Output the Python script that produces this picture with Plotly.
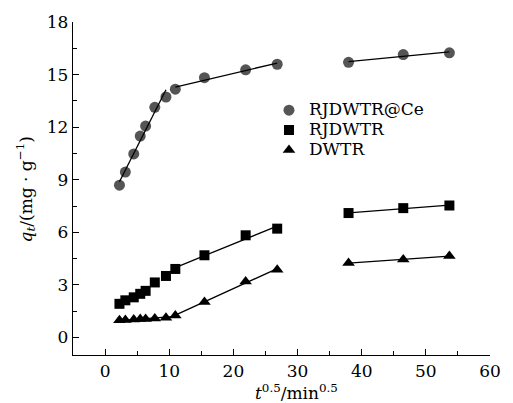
import numpy as np
import plotly.graph_objects as go

# sqrt(t) values (t in min)
t_sqrt = [2.24, 3.16, 4.47, 5.48, 6.32, 7.75, 9.49, 10.95, 15.49, 21.91, 26.83, 37.95, 46.48, 53.67]
q_ce = [8.69, 9.44, 10.47, 11.49, 12.06, 13.13, 13.72, 14.17, 14.82, 15.27, 15.59, 15.70, 16.14, 16.24]
q_rj = [1.92, 2.12, 2.29, 2.49, 2.66, 3.14, 3.51, 3.91, 4.69, 5.83, 6.21, 7.10, 7.38, 7.53]
q_dw = [0.98, 1.00, 1.03, 1.05, 1.06, 1.08, 1.13, 1.25, 2.03, 3.20, 3.87, 4.25, 4.45, 4.65]

series_names = ["RJDWTR@Ce", "RJDWTR", "DWTR"]
# index ranges of points used for each piecewise linear fit (start, end exclusive)
fit_segments = {
    "RJDWTR@Ce": [(0, 7), (7, 11), (11, 14)],
    "RJDWTR": [(7, 11), (11, 14)],
    "DWTR": [(0, 8), (7, 11), (11, 14)],
}

x_ticks = [0, 10, 20, 30, 40, 50, 60]
y_ticks = [0, 3, 6, 9, 12, 15, 18]

FONT = "DejaVu Serif"
FS = 17

styles = {
    "RJDWTR@Ce": dict(symbol="circle", color="#555555", size=11),
    "RJDWTR": dict(symbol="square", color="#000000", size=10),
    "DWTR": dict(symbol="triangle-up", color="#000000", size=11),
}
data = {"RJDWTR@Ce": q_ce, "RJDWTR": q_rj, "DWTR": q_dw}

fig = go.Figure()
x_arr = np.array(t_sqrt)
for name in series_names:
    st = styles[name]
    fig.add_trace(go.Scatter(
        x=t_sqrt, y=data[name], mode="markers",
        name='<span style="font-size:%dpx">%s</span>' % (FS, name),
        marker=dict(symbol=st["symbol"], color=st["color"], size=st["size"], line=dict(width=0)),
    ))
for name in series_names:
    y_arr = np.array(data[name])
    for (a, b) in fit_segments[name]:
        xs = x_arr[a:b]
        k, c = np.polyfit(xs, y_arr[a:b], 1)
        xl = [xs[0], xs[-1]]
        fig.add_trace(go.Scatter(
            x=xl, y=[k * v + c for v in xl], mode="lines",
            line=dict(color="black", width=1.3), showlegend=False, hoverinfo="skip",
        ))

axis_common = dict(
    showline=True, linecolor="black", linewidth=1.4, mirror=False,
    showgrid=False, zeroline=False,
    ticks="inside", ticklen=6, tickwidth=1.2, tickcolor="black",
    tickfont=dict(family=FONT, size=FS, color="black"),
)
fig.update_xaxes(
    range=[-5, 60], tickmode="array", tickvals=x_ticks, ticktext=[str(v) for v in x_ticks],
    minor=dict(ticks="inside", ticklen=4, tickwidth=1.2, tickcolor="black", dtick=5, tick0=0),
    **axis_common,
)
fig.update_yaxes(
    range=[-1, 18], tickmode="array", tickvals=y_ticks, ticktext=[str(v) for v in y_ticks],
    minor=dict(ticks="inside", ticklen=4, tickwidth=1.2, tickcolor="black", dtick=1.5, tick0=0),
    **axis_common,
)

fig.update_layout(
    width=513, height=403,
    margin=dict(l=73, r=16, t=20.5, b=47.5),
    paper_bgcolor="white", plot_bgcolor="white",
    font=dict(family=FONT, size=FS, color="black"),
    showlegend=True,
    legend=dict(
        x=0.47, y=0.78, xanchor="left", yanchor="top",
        bgcolor="rgba(0,0,0,0)", borderwidth=0,
        font=dict(family=FONT, size=13, color="black"),
        itemsizing="trace",
    ),
    annotations=[
        dict(text="<i>t</i><sup>0.5</sup>/min<sup>0.5</sup>", xref="paper", yref="paper",
             x=0.535, y=-0.072, xanchor="center", yanchor="top", showarrow=False,
             font=dict(family=FONT, size=FS, color="black")),
        dict(text="<i>q</i><sub><i>t</i></sub>/(mg · g<sup>−1</sup>)", xref="paper", yref="paper",
             x=-0.113, y=0.497, xanchor="center", yanchor="middle", textangle=-90, showarrow=False,
             font=dict(family=FONT, size=FS, color="black")),
    ],
)

fig.write_html("out.html")
